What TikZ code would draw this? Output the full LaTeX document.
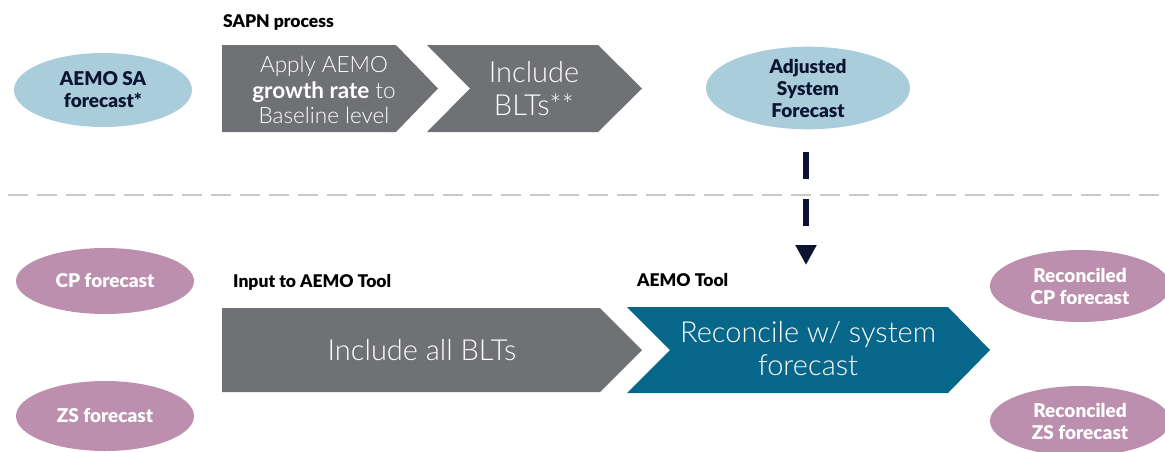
\documentclass[tikz,border=0pt]{standalone}
\usepackage{fontspec}
\setmainfont{Lato}
\newfontfamily\lightfont{Lato Light}
\newfontfamily\heavyfont{Lato Black}
\usetikzlibrary{shapes.geometric,arrows.meta}

\definecolor{chevgray}{HTML}{707174}
\definecolor{skyblue}{HTML}{A9CDDB}
\definecolor{mauve}{HTML}{BC8FAE}
\definecolor{teal}{HTML}{07678A}
\definecolor{navy}{HTML}{0D1431}
\definecolor{sepgray}{HTML}{C9C9C9}

\tikzset{
  bluebubble/.style={ellipse, fill=skyblue, inner sep=0pt, text=navy,
    align=center, font=\heavyfont\fontsize{19}{22}\selectfont},
  mauvebubble/.style={ellipse, fill=mauve, inner sep=0pt, text=white,
    align=center, font=\heavyfont\fontsize{19}{22}\selectfont},
  chevtext/.style={text=white, align=center, inner sep=0pt},
  heading/.style={anchor=west, inner sep=0pt, text=black,
    font=\heavyfont\fontsize{17.5}{18}\selectfont},
  separator/.style={draw=sepgray, line width=2.5pt, dash pattern=on 20pt off 9pt},
  flowarrow/.style={draw=navy, line width=6pt, dash pattern=on 27pt off 20pt,
    -{Triangle[width=20pt,length=20pt]}}
}

\begin{document}
\begin{tikzpicture}[x=1pt,y=-1pt]
\useasboundingbox (0,0) rectangle (1165,451);

% section divider
\draw[separator] (8,195) -- (1165,195);

% SAPN process chevrons
\fill[chevgray] (222,45) -- (396,45) -- (438,88.5) -- (396,132) -- (222,132) -- cycle;
\fill[chevgray] (427,45) -- (598,45) -- (642,88.5) -- (598,132) -- (427,132) -- (470,88.5) -- cycle;
\node[chevtext, font=\lightfont\fontsize{22.5}{25.5}\selectfont] (apply) at (324,90)
  {Apply AEMO\\{\fontspec{Lato}\bfseries growth rate} to\\Baseline level};
\node[chevtext, font=\lightfont\fontsize{29}{33}\selectfont] (blts) at (534,89)
  {Include\\BLTs**};

% AEMO tool chevrons
\fill[chevgray] (222,308) -- (600,308) -- (642,350) -- (600,392) -- (222,392) -- cycle;
\fill[teal] (627,307) -- (948,307) -- (990,350) -- (948,393) -- (627,393) -- (670,350) -- cycle;
\node[chevtext, font=\lightfont\fontsize{29}{33}\selectfont] (allblts) at (422,350)
  {Include all BLTs};
\node[chevtext, font=\lightfont\fontsize{29}{33}\selectfont] (reconcile) at (808,349)
  {Reconcile w/ system\\forecast};

% headings
\node[heading] (sapn) at (223,22) {SAPN process};
\node[heading] (input) at (233,282) {Input to AEMO Tool};
\node[heading] (tool) at (637,280) {AEMO Tool};

% forecast bubbles
\node[bluebubble, minimum width=178pt, minimum height=74pt] (aemo) at (103,90)
  {AEMO SA\\forecast*};
\node[bluebubble, minimum width=204pt, minimum height=80pt] (adj) at (808,88)
  {Adjusted\\System\\Forecast};
\node[mauvebubble, minimum width=178pt, minimum height=66pt] (cp) at (105,281)
  {CP forecast};
\node[mauvebubble, minimum width=178pt, minimum height=70pt] (zs) at (105,416)
  {ZS forecast};
\node[mauvebubble, minimum width=180pt, minimum height=72pt] (rcp) at (1080,286)
  {Reconciled\\CP forecast};
\node[mauvebubble, minimum width=180pt, minimum height=70pt] (rzs) at (1080,421)
  {Reconciled\\ZS forecast};

% system forecast feeds the AEMO tool
\coordinate (feedstart) at (806,152);
\coordinate (feedend) at (806,265);
\draw[flowarrow] (feedstart) -- (feedend);
\end{tikzpicture}
\end{document}
